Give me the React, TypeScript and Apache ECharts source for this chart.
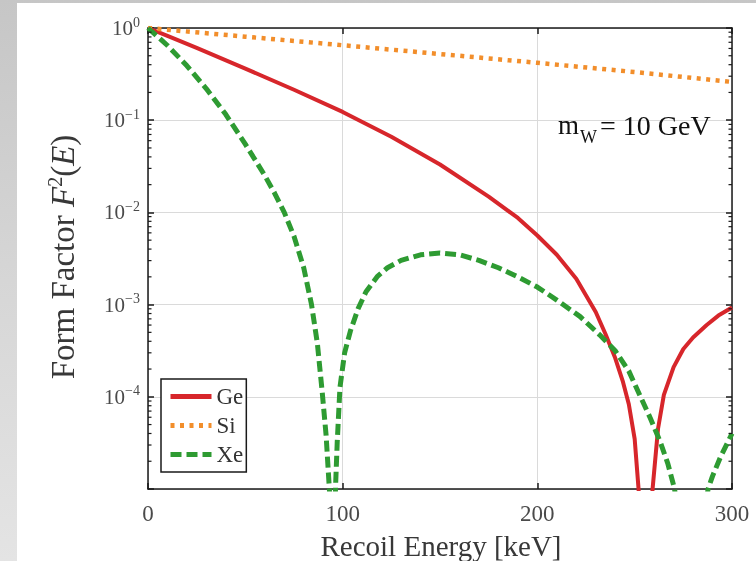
import React, { useEffect, useRef } from "react";
import * as echarts from "echarts";

// Recoil energy (keV) and form factor F^2(E)
const geEnergy = [0, 10, 25, 50, 75, 100, 125, 150, 175, 190, 200, 210, 220, 230, 235, 240, 244, 247, 250, 252, 253.5, 254.8, 256.5, 259.2, 262, 265, 270, 275, 280, 287, 293, 300];
const geForm = [1, 0.82, 0.61, 0.363, 0.214, 0.123, 0.0661, 0.0331, 0.0148, 0.00871, 0.00562, 0.00347, 0.00191, 8.3e-4, 4.8e-4, 2.63e-4, 1.45e-4, 8.3e-5, 3.5e-5, 1.0e-5, 2.5e-6, 1e-8, 1.6e-6, 1.0e-5, 4.5e-5, 1.05e-4, 2.1e-4, 3.3e-4, 4.4e-4, 6.0e-4, 7.6e-4, 9.3e-4];

const siEnergy = [0, 50, 100, 150, 200, 250, 300];
const siForm = [1, 0.805, 0.65, 0.522, 0.419, 0.333, 0.26];

const xeEnergy = [0, 10, 20, 30, 40, 50, 60, 65, 70, 75, 80, 84, 87, 89.5, 91.5, 93.3, 94.8, 96.3, 97.2, 98.6, 101, 104, 108, 112, 118, 123, 130, 140, 150, 160, 170, 180, 190, 200, 210, 222, 232, 240, 247, 253, 258, 263, 267, 270.5, 274, 279, 284, 287.7, 290, 294, 300];
const xeForm = [1, 0.646, 0.389, 0.219, 0.115, 0.055, 0.0251, 0.0162, 0.01, 0.0055, 0.00251, 0.001, 3.8e-4, 1.12e-4, 3.8e-5, 9e-6, 1e-8, 1.0e-5, 3.2e-5, 1.26e-4, 3.0e-4, 5.2e-4, 9.1e-4, 1.38e-3, 2.04e-3, 2.51e-3, 3.02e-3, 3.47e-3, 3.63e-3, 3.47e-3, 3.02e-3, 2.51e-3, 2.0e-3, 1.55e-3, 1.12e-3, 7.4e-4, 4.7e-4, 3.16e-4, 1.9e-4, 1.0e-4, 5.9e-5, 3.3e-5, 1.9e-5, 1.0e-5, 2.5e-6, 1e-8, 2.5e-6, 1.0e-5, 1.38e-5, 2.2e-5, 4.0e-5];

const seriesNames = ["Ge", "Si", "Xe"];
const xTickValues = [0, 100, 200, 300];
const yDecades = [1e-5, 1e-4, 1e-3, 1e-2, 1e-1];
const minorMantissas = [2, 3, 4, 5, 6, 7, 8, 9];

const SERIF = "'Liberation Serif', 'DejaVu Serif', serif";

const pairs = (xs: number[], ys: number[]) => xs.map((x, i) => [x, ys[i]]);

export default function App() {
  const ref = useRef<HTMLDivElement>(null);

  useEffect(() => {
    const chart = echarts.init(ref.current!, null, { renderer: "svg" });

    const minorTicks: number[][] = [];
    yDecades.forEach((d) => minorMantissas.forEach((m) => minorTicks.push([0, m * d])));

    const axisLineStyle = { color: "#1a1a1a", width: 1.5 };

    const yLabelFormatter = (v: number) => {
      const e = Math.round(Math.log10(v));
      if (e <= -5) return "";
      return `{b|10}{s|${e === 0 ? "0" : "\u2212" + -e}}`;
    };

    const option: any = {
      animation: false,
      backgroundColor: "transparent",
      grid: { left: 148, top: 28, width: 584, height: 461 },
      legend: {
        data: seriesNames,
        orient: "vertical",
        left: 161,
        top: 379,
        itemWidth: 41,
        itemHeight: 14,
        itemGap: 6,
        padding: [6, 3, 6, 7],
        backgroundColor: "#ffffff",
        borderColor: "#1a1a1a",
        borderWidth: 1.5,
        borderRadius: 0,
        itemStyle: { opacity: 0, borderWidth: 0 },
        lineStyle: { width: 5 },
        textStyle: { fontFamily: SERIF, fontSize: 23, lineHeight: 23, color: "#333" },
      },
      xAxis: [
        {
          type: "value",
          min: 0,
          max: 300,
          interval: 100,
          position: "bottom",
          axisLine: { onZero: false, lineStyle: axisLineStyle },
          axisTick: { inside: true, length: 6, lineStyle: axisLineStyle },
          axisLabel: {
            margin: 13,
            fontFamily: SERIF,
            fontSize: 23,
            color: "#4a4a4a",
            formatter: (v: number) => (xTickValues.includes(v) ? String(v) : ""),
          },
          splitLine: { show: true, lineStyle: { color: "#dadada", width: 1 } },
        },
        {
          type: "value",
          min: 0,
          max: 300,
          interval: 100,
          position: "top",
          axisLine: { onZero: false, lineStyle: axisLineStyle },
          axisTick: { inside: true, length: 6, lineStyle: axisLineStyle },
          axisLabel: { show: false },
          splitLine: { show: false },
        },
      ],
      yAxis: [
        {
          type: "log",
          logBase: 10,
          min: 1e-5,
          max: 1,
          splitNumber: 5,
          position: "left",
          axisLine: { onZero: false, lineStyle: axisLineStyle },
          axisTick: { inside: true, length: 6, lineStyle: axisLineStyle },
          axisLabel: {
            margin: 8,
            formatter: yLabelFormatter,
            rich: {
              b: { fontFamily: SERIF, fontSize: 21, lineHeight: 26, color: "#4a4a4a" },
              s: { fontFamily: SERIF, fontSize: 14, color: "#4a4a4a", verticalAlign: "top" },
            },
          },
          splitLine: { show: true, lineStyle: { color: "#dadada", width: 1 } },
        },
        {
          type: "log",
          logBase: 10,
          min: 1e-5,
          max: 1,
          splitNumber: 5,
          position: "right",
          axisLine: { onZero: false, lineStyle: axisLineStyle },
          axisTick: { inside: true, length: 6, lineStyle: axisLineStyle },
          axisLabel: { show: false },
          splitLine: { show: false },
        },
      ],
      series: [
        {
          name: "Ge",
          type: "line",
          data: pairs(geEnergy, geForm),
          showSymbol: false,
          symbol: "none",
          smooth: false,
          clip: true,
          lineStyle: { color: "#d7262b", width: 4, type: "solid", join: "round" },
          itemStyle: { color: "#d7262b" },
          z: 3,
        },
        {
          name: "Si",
          type: "line",
          data: pairs(siEnergy, siForm),
          showSymbol: false,
          symbol: "none",
          smooth: false,
          clip: true,
          lineStyle: { color: "#f28e2b", width: 4.5, type: [4, 5.5], cap: "butt" },
          itemStyle: { color: "#f28e2b" },
          z: 3,
        },
        {
          name: "Xe",
          type: "line",
          data: pairs(xeEnergy, xeForm),
          showSymbol: false,
          symbol: "none",
          smooth: false,
          clip: true,
          lineStyle: { color: "#2e9b32", width: 5, type: [11, 5], cap: "butt", join: "round" },
          itemStyle: { color: "#2e9b32" },
          z: 4,
        },
        {
          type: "custom",
          silent: true,
          clip: false,
          data: minorTicks,
          encode: { x: 0, y: 1 },
          z: 5,
          renderItem: (_params: any, api: any) => {
            const v = api.value(1);
            const l = api.coord([0, v]);
            const r = api.coord([300, v]);
            const st = { stroke: "#1a1a1a", lineWidth: 1.2 };
            return {
              type: "group",
              children: [
                { type: "line", shape: { x1: l[0], y1: l[1], x2: l[0] + 3.5, y2: l[1] }, style: st },
                { type: "line", shape: { x1: r[0] - 3.5, y1: r[1], x2: r[0], y2: r[1] }, style: st },
              ],
            };
          },
        },
      ],
      graphic: [
        {
          type: "rect",
          z: -20,
          silent: true,
          shape: { x: 0, y: 0, width: 756, height: 561 },
          style: {
            fill: new echarts.graphic.LinearGradient(0, 0, 0, 1, [
              { offset: 0, color: "#c6c6c6" },
              { offset: 0.5, color: "#d6d6d6" },
              { offset: 1, color: "#e4e4e4" },
            ]),
          },
        },
        {
          type: "rect",
          z: -19,
          silent: true,
          shape: { x: 17, y: 3, width: 739, height: 558 },
          style: { fill: "#ffffff" },
        },
        {
          type: "text",
          z: 10,
          x: 558,
          y: 125,
          style: { text: "m", fontFamily: SERIF, fontSize: 27, fill: "#111", verticalAlign: "middle", align: "left" },
        },
        {
          type: "text",
          z: 10,
          x: 580,
          y: 137,
          style: { text: "W", fontFamily: SERIF, fontSize: 18, fill: "#111", verticalAlign: "middle", align: "left" },
        },
        {
          type: "text",
          z: 10,
          x: 600,
          y: 125,
          style: { text: "= 10 GeV", fontFamily: SERIF, fontSize: 28, fill: "#111", verticalAlign: "middle", align: "left" },
        },
        {
          type: "text",
          z: 10,
          x: 441,
          y: 546,
          style: {
            text: "Recoil Energy [keV]",
            fontFamily: SERIF,
            fontSize: 29,
            fill: "#383838",
            align: "center",
            verticalAlign: "middle",
          },
        },
        {
          type: "text",
          z: 10,
          x: 63,
          y: 257,
          rotation: Math.PI / 2,
          style: {
            text: "{n|Form Factor }{i|F}{s|2}{n|(}{i|E}{n|)}",
            align: "center",
            verticalAlign: "middle",
            rich: {
              n: { fontFamily: SERIF, fontSize: 33, lineHeight: 36, fill: "#383838" },
              i: { fontFamily: SERIF, fontSize: 33, lineHeight: 36, fontStyle: "italic", fill: "#383838" },
              s: { fontFamily: SERIF, fontSize: 20, fill: "#383838", verticalAlign: "top" },
            },
          },
        },
      ],
    };

    chart.setOption(option);
    return () => chart.dispose();
  }, []);

  return <div ref={ref} style={{ position: "fixed", left: 0, top: 0, width: 756, height: 561 }} />;
}
